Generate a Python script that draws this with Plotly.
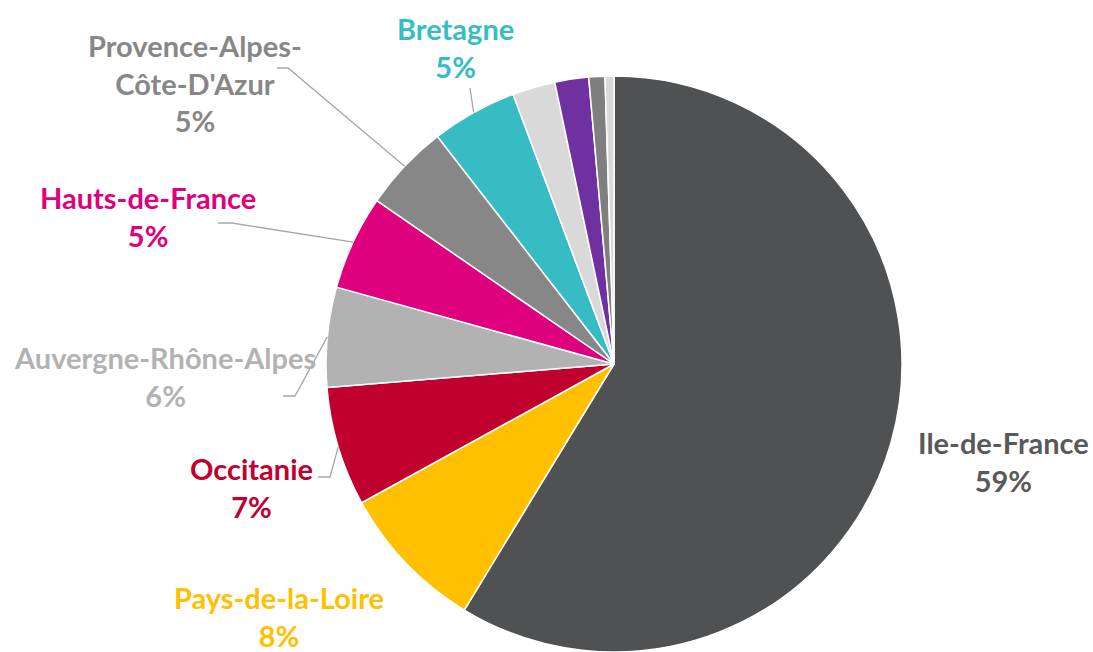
import math
import plotly.graph_objects as go

# ---- data ----
regions = ["Ile-de-France", "Pays-de-la-Loire", "Occitanie", "Auvergne-Rhône-Alpes",
           "Hauts-de-France", "Provence-Alpes-Côte-D'Azur", "Bretagne",
           "Nouvelle-Aquitaine", "Grand Est", "Normandie", "Autres"]
shares = [58.7, 8.3, 6.7, 5.6, 5.3, 4.9, 4.8, 2.4, 1.9, 0.9, 0.5]
slice_colors = ["#505153", "#FFC000", "#C0002F", "#B2B2B2", "#DE007C", "#878787",
                "#38BCC3", "#D9D9D9", "#7030A0", "#7F7F7F", "#D9D9D9"]
label_texts = {
    "Ile-de-France": "Ile-de-France<br>59%",
    "Pays-de-la-Loire": "Pays-de-la-Loire<br>8%",
    "Occitanie": "Occitanie<br>7%",
    "Auvergne-Rhône-Alpes": "Auvergne-Rhône-Alpes<br>6%",
    "Hauts-de-France": "Hauts-de-France<br>5%",
    "Provence-Alpes-Côte-D'Azur": "Provence-Alpes-<br>Côte-D'Azur<br>5%",
    "Bretagne": "Bretagne<br>5%",
}

# ---- layout geometry (pixels) ----
W, H = 1093, 652
CX, CY, R = 614, 364, 288
label_pos = {  # centre of each label block
    "Ile-de-France": (1003, 461),
    "Pays-de-la-Loire": (279, 616),
    "Occitanie": (251, 487),
    "Auvergne-Rhône-Alpes": (165, 376),
    "Hauts-de-France": (148, 217),
    "Provence-Alpes-Côte-D'Azur": (195, 83),
    "Bretagne": (455, 47),
}
leader_start = {  # label-side points of leader lines
    "Occitanie": [(318, 477), (330, 477)],
    "Auvergne-Rhône-Alpes": [(283, 396), (295, 396)],
    "Hauts-de-France": [(218, 223), (232, 223)],
    "Provence-Alpes-Côte-D'Azur": [(277, 68), (288, 68)],
    "Bretagne": [(470, 88)],
}


def px(x):
    return x / W


def py(y):
    return 1 - y / H


fig = go.Figure(go.Pie(
    labels=regions, values=shares, sort=False, direction="clockwise", rotation=0,
    marker=dict(colors=slice_colors, line=dict(color="white", width=1.5)),
    textinfo="none", hoverinfo="label+percent", showlegend=False,
    domain=dict(x=[px(CX - R), px(CX + R)], y=[0, (2 * R) / H]),
))

# mid angle of each slice (clockwise from 12 o'clock), from the data
total = sum(shares)
mid_angle = {}
acc = 0.0
for name, v in zip(regions, shares):
    mid_angle[name] = (acc + v / 2) / total * 2 * math.pi
    acc += v

annotations = []
for name, color in zip(regions, slice_colors):
    if name not in label_texts:
        continue
    lx, ly = label_pos[name]
    tcolor = "#595959" if name == "Ile-de-France" else color
    annotations.append(dict(
        x=px(lx), y=py(ly), xref="paper", yref="paper", text=label_texts[name],
        showarrow=False, xanchor="center", yanchor="middle", align="center",
        font=dict(family="Lato", size=29, color=tcolor, weight="bold"),
    ))

shapes = []
for name, pts in leader_start.items():
    a = mid_angle[name]
    ex, ey = CX + R * math.sin(a), CY - R * math.cos(a)
    allpts = pts + [(ex, ey)]
    path = "M " + " L ".join(f"{px(x):.5f},{py(y):.5f}" for x, y in allpts)
    shapes.append(dict(type="path", xref="paper", yref="paper", path=path,
                       line=dict(color="#A6A6A6", width=1.3)))

fig.update_layout(
    width=W, height=H, margin=dict(l=0, r=0, t=0, b=0),
    paper_bgcolor="white", plot_bgcolor="white",
    annotations=annotations, shapes=shapes,
)

fig.write_html(
    "out.html",
    config={"displayModeBar": False},
    post_script="document.body.style.margin='0';document.body.style.overflow='hidden';",
)
